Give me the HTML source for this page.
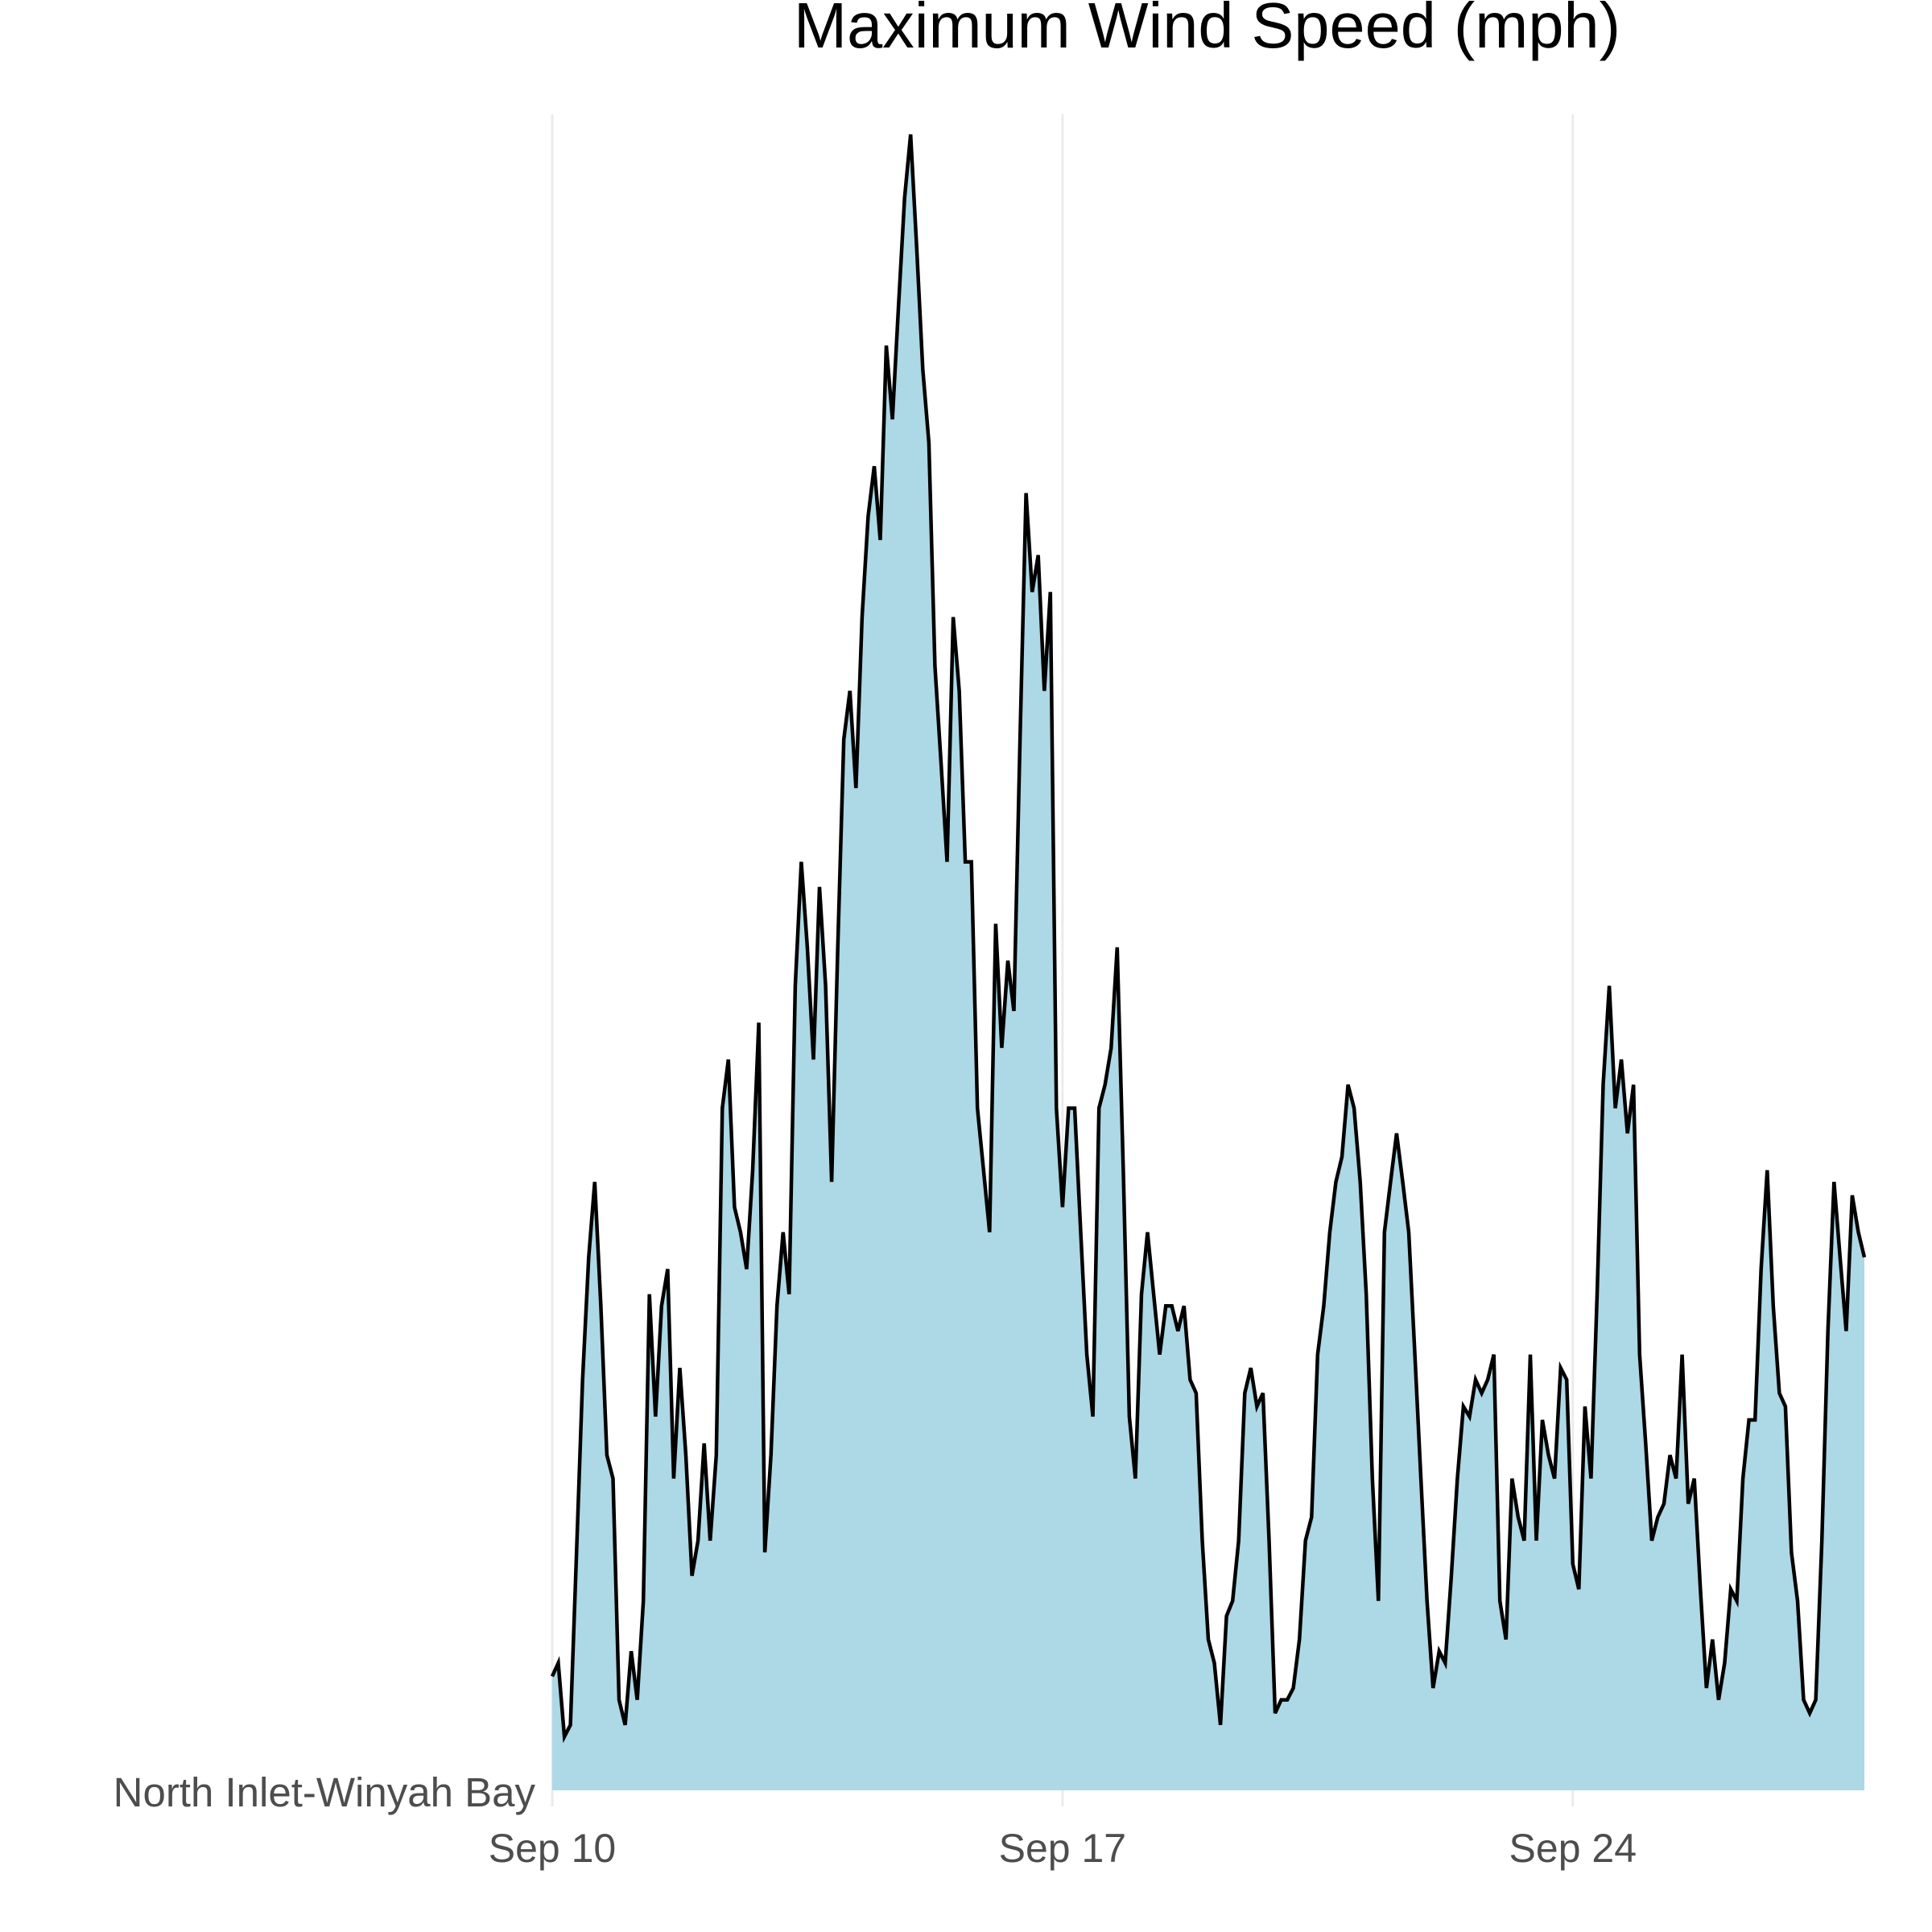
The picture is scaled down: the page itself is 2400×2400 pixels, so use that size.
<!DOCTYPE html>
<html><head><meta charset="utf-8"><style>
html,body{margin:0;padding:0;background:#fff}
svg{display:block}
text{font-family:"Liberation Sans",Arial,sans-serif}
</style></head><body>
<svg id="chart" width="2400" height="2400" viewBox="0 0 2400 2400" xmlns="http://www.w3.org/2000/svg">
<text x="986" y="59" font-size="80" textLength="1027" lengthAdjust="spacingAndGlyphs" fill="#000">Maximum Wind Speed (mph)</text>
<g id="grid"></g>
<g id="marks"></g>
<g id="axes"></g>
</svg>
<script>
const tickLabels = ["Sep 10","Sep 17","Sep 24"];
const tickDays = [0,7,14];
const stationLabel = "North Inlet-Winyah Bay";
const totalDays = 18;
const windValues = [6.8,7.6,3.2,3.9,14.2,24.5,31.8,36.3,28.9,20,18.6,5.4,3.9,8.3,5.4,11.3,29.6,22.3,28.9,31.1,18.6,25.2,20,12.8,14.9,20.7,14.9,20,40.7,43.6,34.8,33.3,31.1,37,45.8,14.2,20,28.9,33.3,29.6,48,55.4,50.3,43.6,53.9,48,36.3,50.3,62.7,65.6,59.8,70,76,79,74.6,86.2,81.8,88.5,95,98.8,92,84.8,80.4,67.1,61.3,55.4,70,65.6,55.4,55.4,40.7,37,33.3,51.7,44.3,49.5,46.5,62.7,77.4,71.5,73.7,65.6,71.5,40.7,34.8,40.7,40.7,33.3,26,22.3,40.7,42.1,44.3,50.3,37,22.3,18.6,29.6,33.3,29.6,26,28.9,28.9,27.4,28.9,24.5,23.7,14.9,9,7.6,3.9,10.4,11.3,14.9,23.7,25.2,22.9,23.7,14.9,4.6,5.4,5.4,6.1,9,14.9,16.3,26,28.9,33.3,36.3,37.8,42.1,40.7,36.3,29.6,18.6,11.3,33.3,36.3,39.2,36.3,33.3,26,18.6,11.3,6.1,8.3,7.6,12.8,18.6,22.9,22.3,24.5,23.7,24.5,26,11.3,9,18.6,16.3,14.9,26,14.9,22.1,20,18.6,25.2,24.5,13.5,12,22.9,18.6,29.6,42.1,48,40.7,43.6,39.2,42.1,26,20.7,14.9,16.3,17.1,20,18.6,26,17.1,18.6,12,6.1,9,5.4,7.6,12,11.3,18.6,22.1,22.1,31.1,37,28.9,23.7,22.9,14.2,11.3,5.4,4.6,5.4,14.9,27.4,36.3,31.8,27.4,35.5,33.3,31.8];
const X0=686,X1=2316,Y0=2224,YT=142;
const xs=d=>X0+(d/totalDays)*(X1-X0);
const ys=v=>Y0-(v/100)*(Y0-YT);
const NS="http://www.w3.org/2000/svg";
const grid=document.getElementById('grid'),marks=document.getElementById('marks'),axes=document.getElementById('axes');
tickDays.forEach((d,i)=>{
  const l=document.createElementNS(NS,'line');
  
  
  l.setAttribute('x1',xs(d));l.setAttribute('x2',xs(d));l.setAttribute('y1',YT);l.setAttribute('y2',Y0+20);
  l.setAttribute('stroke','#ebebeb');l.setAttribute('stroke-width','3');
  grid.appendChild(l);
  const t=document.createElementNS(NS,'text');
  
  
  t.setAttribute('x',xs(d));t.setAttribute('y',2313);t.setAttribute('text-anchor','middle');
  t.setAttribute('font-size','50');t.setAttribute('fill','#4d4d4d');
  t.textContent=tickLabels[i];
  axes.appendChild(t);
});
const n=windValues.length;
const pts=windValues.map((v,i)=>[xs(i*totalDays/(n-1)),ys(v)]);
const line=pts.map(p=>p[0].toFixed(1)+','+p[1].toFixed(1)).join(' ');
const area=document.createElementNS(NS,'polygon');


area.setAttribute('points',xs(0)+','+Y0+' '+line+' '+xs(totalDays)+','+Y0);
area.setAttribute('fill','#add8e6');
marks.appendChild(area);
const pl=document.createElementNS(NS,'polyline');


pl.setAttribute('points',line);
pl.setAttribute('fill','none');pl.setAttribute('stroke','#000');pl.setAttribute('stroke-width','4.5');pl.setAttribute('stroke-linejoin','miter');
marks.appendChild(pl);
const yl=document.createElementNS(NS,'text');


yl.setAttribute('x',665);yl.setAttribute('y',2244);yl.setAttribute('text-anchor','end');
yl.setAttribute('font-size','51');yl.setAttribute('fill','#4d4d4d');
yl.textContent=stationLabel;
axes.appendChild(yl);
</script>
</body></html>
